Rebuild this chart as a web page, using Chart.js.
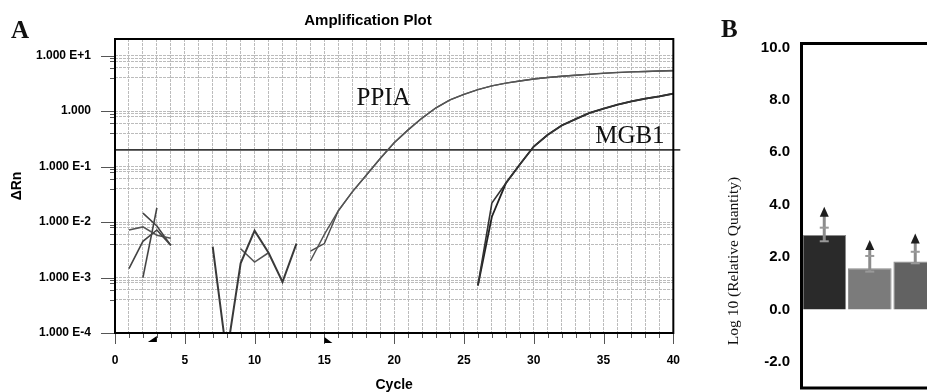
<!DOCTYPE html>
<html>
<head>
<meta charset="utf-8">
<script src="https://cdn.jsdelivr.net/npm/chart.js@4.4.0/dist/chart.umd.min.js"></script>
<style>
  html, body { margin: 0; padding: 0; background: #fff; }
  body { width: 927px; height: 392px; overflow: hidden; position: relative; }
  #wrapA { position: absolute; left: 0; top: 0; }
  #wrapB { position: absolute; left: 690px; top: 0; }
</style>
</head>
<body>
<div id="wrapA"><canvas id="ampChart" width="700" height="392"></canvas></div>
<div id="wrapB"><canvas id="rqChart" width="260" height="420"></canvas></div>
<script>
// ---------- Panel A: amplification plot ----------
const ppiaCycles = [14, 15, 16, 17, 18, 19, 20, 21, 22, 23, 24, 25, 26, 27, 28, 29, 30, 31, 32, 33, 34, 35, 36, 37, 38, 39, 40];
const ppiaRep1 = [0.002, 0.006, 0.016, 0.035, 0.07, 0.14, 0.27, 0.46, 0.75, 1.15, 1.6, 2.0, 2.45, 2.85, 3.2, 3.5, 3.8, 4.05, 4.25, 4.45, 4.65, 4.85, 5.0, 5.1, 5.2, 5.3, 5.4];
const ppiaRep2 = [0.003, 0.0041, 0.016, 0.035, 0.07, 0.14, 0.27, 0.46, 0.75, 1.15, 1.6, 2.0, 2.45, 2.85, 3.2, 3.5, 3.8, 4.05, 4.25, 4.45, 4.6, 4.8, 4.95, 5.1, 5.2, 5.3, 5.35];

const mgbCycles = [26, 27, 28, 29, 30, 31, 32, 33, 34, 35, 36, 37, 38, 39, 40];
const mgbRep1 = [0.00072, 0.022, 0.05, 0.109, 0.23, 0.375, 0.55, 0.72, 0.93, 1.11, 1.31, 1.5, 1.68, 1.85, 2.07];
const mgbRep2 = [0.00072, 0.0125, 0.05, 0.109, 0.23, 0.375, 0.55, 0.72, 0.93, 1.11, 1.31, 1.5, 1.68, 1.85, 2.07];

// early-cycle noise traces
const noiseCyclesA = [1, 2, 3, 4];
const noiseA1 = [0.00145, 0.0045, 0.0072, 0.0038];
const noiseA2 = [0.0072, 0.0082, 0.0058, 0.0051];
const noiseCyclesB = [2, 3, 4];
const noiseB1 = [0.0145, 0.0085, 0.0038];
const noiseCyclesC = [2, 3];
const noiseC1 = [0.001, 0.018];
const noiseCyclesD = [7, 8, 9, 10, 11, 12, 13];
const noiseD1 = [0.0036, 0.00004, 0.0018, 0.007, 0.0028, 0.00083, 0.0041];
const noiseCyclesE = [9, 10, 11];
const noiseE1 = [0.0033, 0.0019, 0.0028];

const threshold = 0.2;
const baselineStart = 3;
const baselineEnd = 15;

const yGridValues = [1e-4,
  4e-4, 6e-4, 8e-4, 9e-4, 1e-3,
  4e-3, 6e-3, 8e-3, 9e-3, 1e-2,
  4e-2, 6e-2, 8e-2, 9e-2, 1e-1,
  0.4, 0.6, 0.8, 0.9, 1,
  4, 6, 8, 9, 10];

const geneLabels = ['PPIA', 'MGB1'];
const geneLabelCycles = [17.3, 34.4];
const geneLabelValues = [1.31, 0.27];

function isDecade(v) {
  const e = Math.log10(v);
  return Math.abs(e - Math.round(e)) < 1e-6;
}

function trace(cycles, values, color, width) {
  return {
    data: cycles.map((c, i) => ({ x: c, y: values[i] })),
    borderColor: color,
    borderWidth: width,
    pointRadius: 0,
    tension: 0,
    fill: false
  };
}

const ampDecor = {
  id: 'ampDecor',
  afterDraw(chart) {
    const { ctx, chartArea: a, scales: { x, y } } = chart;
    ctx.save();
    // cycle tick marks below the axis
    ctx.strokeStyle = '#555';
    ctx.lineWidth = 1;
    for (let c = 0; c <= 40; c++) {
      const px = Math.round(x.getPixelForValue(c)) + 0.5;
      const len = c % 5 === 0 ? 11 : 5;
      ctx.beginPath();
      ctx.moveTo(px, a.bottom);
      ctx.lineTo(px, a.bottom + len);
      ctx.stroke();
    }
    // y tick marks
    y.ticks.forEach(t => {
      const py = Math.round(y.getPixelForValue(t.value)) + 0.5;
      const len = isDecade(t.value) ? 14 : 5;
      ctx.beginPath();
      ctx.moveTo(a.left - len, py);
      ctx.lineTo(a.left, py);
      ctx.stroke();
    });
    // frame
    ctx.strokeStyle = '#000';
    ctx.lineWidth = 2;
    ctx.strokeRect(a.left, a.top, a.width, a.height);
    // baseline start / end markers
    ctx.fillStyle = '#000';
    let px = x.getPixelForValue(baselineStart);
    ctx.beginPath();
    ctx.moveTo(px - 9, a.bottom + 9);
    ctx.lineTo(px, a.bottom + 9);
    ctx.lineTo(px, a.bottom + 3);
    ctx.closePath();
    ctx.fill();
    px = x.getPixelForValue(baselineEnd);
    ctx.beginPath();
    ctx.moveTo(px, a.bottom + 4);
    ctx.lineTo(px, a.bottom + 10);
    ctx.lineTo(px + 8, a.bottom + 10);
    ctx.closePath();
    ctx.fill();
    // gene labels
    ctx.fillStyle = '#111';
    ctx.font = '25px "Liberation Serif"';
    ctx.textAlign = 'left';
    ctx.textBaseline = 'alphabetic';
    geneLabels.forEach((g, i) => {
      ctx.fillText(g, x.getPixelForValue(geneLabelCycles[i]), y.getPixelForValue(geneLabelValues[i]));
    });
    // title and panel letter
    ctx.fillStyle = '#000';
    ctx.font = 'bold 15px "Liberation Sans"';
    ctx.textAlign = 'center';
    ctx.fillText('Amplification Plot', 368, 25);
    ctx.fillStyle = '#111';
    ctx.font = 'bold 25px "Liberation Serif"';
    ctx.textAlign = 'left';
    ctx.fillText('A', 11, 38);
    ctx.restore();
  }
};

new Chart(document.getElementById('ampChart'), {
  type: 'line',
  data: {
    datasets: [
      trace(noiseCyclesA, noiseA1, '#444', 1.6),
      trace(noiseCyclesA, noiseA2, '#555', 1.6),
      trace(noiseCyclesB, noiseB1, '#444', 1.6),
      trace(noiseCyclesC, noiseC1, '#444', 1.6),
      trace(noiseCyclesD, noiseD1, '#3a3a3a', 2),
      trace(noiseCyclesE, noiseE1, '#555', 1.6),
      trace(ppiaCycles, ppiaRep1, '#555', 1.4),
      trace(ppiaCycles, ppiaRep2, '#4a4a4a', 1.4),
      trace(mgbCycles, mgbRep1, '#333', 1.6),
      trace(mgbCycles, mgbRep2, '#222', 1.8),
      Object.assign(trace([0, 40.5], [threshold, threshold], '#3a3a3a', 1.6), { clip: false })
    ]
  },
  options: {
    responsive: false,
    animation: false,
    layout: { padding: { top: 39, right: 24, left: 0, bottom: 0 } },
    plugins: { legend: { display: false }, tooltip: { enabled: false } },
    scales: {
      x: {
        type: 'linear',
        min: 0,
        max: 40,
        afterFit: s => { s.height = 59; },
        grid: { color: '#bcbcbc', lineWidth: 1, drawTicks: false },
        border: { display: false, dash: [3, 1] },
        ticks: {
          stepSize: 1,
          autoSkip: false,
          maxRotation: 0,
          padding: 20,
          color: '#000',
          font: { family: 'Liberation Sans', size: 12, weight: 'bold' },
          callback: v => (v % 5 === 0 ? String(v) : '')
        },
        title: {
          display: true,
          text: 'Cycle',
          color: '#000',
          padding: 0,
          font: { family: 'Liberation Sans', size: 14, weight: 'bold', lineHeight: 1 }
        }
      },
      y: {
        type: 'logarithmic',
        min: 1e-4,
        max: 20,
        afterFit: s => { s.width = 115; },
        afterBuildTicks: s => { s.ticks = yGridValues.map(v => ({ value: v })); },
        grid: { color: '#bcbcbc', lineWidth: 1, drawTicks: false },
        border: { display: false, dash: [3, 1] },
        ticks: {
          autoSkip: false,
          padding: 24,
          color: '#000',
          font: { family: 'Liberation Sans', size: 12, weight: 'bold' },
          callback: v => {
            if (!isDecade(v)) return '';
            const e = Math.round(Math.log10(v));
            return e === 0 ? '1.000' : '1.000 E' + (e > 0 ? '+' : '') + e;
          }
        },
        title: {
          display: true,
          text: 'ΔRn',
          color: '#000',
          padding: { top: 10, bottom: 0 },
          font: { family: 'Liberation Sans', size: 14, weight: 'bold', lineHeight: 1 }
        }
      }
    }
  },
  plugins: [ampDecor]
});

// ---------- Panel B: relative quantity ----------
const rqCategories = ['Sample 1', 'Sample 2', 'Sample 3'];
const rqValues = [2.84, 1.57, 1.83];
const rqErrLow = [2.6, 1.44, 1.76];
const rqErrHigh = [3.12, 2.04, 2.2];
const rqArrowTip = [3.92, 2.65, 2.9];
const rqColors = ['#2a2a2a', '#7b7b7b', '#626262'];
const rqTicks = [-2, 0, 2, 4, 6, 8, 10];

const rqDecor = {
  id: 'rqDecor',
  afterDatasetsDraw(chart) {
    const { ctx, scales: { x, y } } = chart;
    ctx.save();
    rqValues.forEach((v, i) => {
      const px = x.getPixelForValue(i);
      const yLow = y.getPixelForValue(rqErrLow[i]);
      const yCap = y.getPixelForValue(rqErrHigh[i]);
      const yTip = y.getPixelForValue(rqArrowTip[i]);
      ctx.strokeStyle = '#8c8c8c';
      ctx.lineWidth = 3;
      ctx.beginPath();
      ctx.moveTo(px, yLow);
      ctx.lineTo(px, yTip + 8);
      ctx.stroke();
      ctx.lineWidth = 2;
      ctx.strokeStyle = '#999';
      [yLow, yCap].forEach(py => {
        ctx.beginPath();
        ctx.moveTo(px - 4.5, py);
        ctx.lineTo(px + 4.5, py);
        ctx.stroke();
      });
      ctx.fillStyle = '#1e1e1e';
      ctx.beginPath();
      ctx.moveTo(px, yTip);
      ctx.lineTo(px - 4.5, yTip + 10);
      ctx.lineTo(px + 4.5, yTip + 10);
      ctx.closePath();
      ctx.fill();
    });
    ctx.restore();
  },
  afterDraw(chart) {
    const { ctx, chartArea: a } = chart;
    ctx.save();
    ctx.strokeStyle = '#000';
    ctx.lineWidth = 3;
    ctx.strokeRect(a.left, a.top, a.width, a.height);
    ctx.fillStyle = '#111';
    ctx.font = 'bold 25px "Liberation Serif"';
    ctx.fillText('B', 31, 37);
    ctx.translate(44, 261);
    ctx.rotate(-Math.PI / 2);
    ctx.textAlign = 'center';
    ctx.textBaseline = 'middle';
    ctx.font = '15.5px "Liberation Serif"';
    ctx.fillText('Log 10 (Relative Quantity)', 0, 0);
    ctx.restore();
  }
};

new Chart(document.getElementById('rqChart'), {
  type: 'bar',
  data: {
    labels: rqCategories,
    datasets: [{
      data: rqValues,
      backgroundColor: rqColors,
      borderColor: '#8a8a8a',
      borderWidth: 1,
      categoryPercentage: 1,
      barPercentage: 0.96
    }]
  },
  options: {
    responsive: false,
    animation: false,
    layout: { padding: { top: 43.5, right: 12, left: 0, bottom: 32 } },
    plugins: { legend: { display: false }, tooltip: { enabled: false } },
    scales: {
      x: { display: false, offset: true },
      y: {
        min: -3,
        max: 10.15,
        afterFit: s => { s.width = 111.5; },
        afterBuildTicks: s => { s.ticks = rqTicks.map(v => ({ value: v })); },
        grid: { display: false, drawTicks: false },
        border: { display: false },
        ticks: {
          padding: 11.5,
          color: '#000',
          font: { family: 'Liberation Sans', size: 15, weight: 'bold' },
          callback: v => v.toFixed(1)
        }
      }
    }
  },
  plugins: [rqDecor]
});
</script>
</body>
</html>
